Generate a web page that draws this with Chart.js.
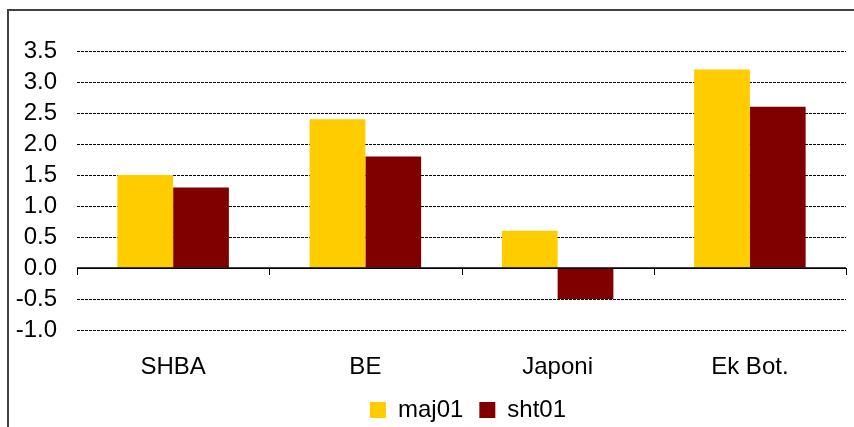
<!DOCTYPE html>
<html>
<head>
<meta charset="utf-8">
<script src="https://cdn.jsdelivr.net/npm/chart.js@4"></script>
<style>
  html, body { margin: 0; padding: 0; background: #fff; overflow: hidden; }
  #wrap { position: relative; width: 854px; height: 427px; }
  #frame { position: absolute; left: 7px; top: 9px; width: 900px; height: 500px;
           border-left: 2px solid #404040; border-top: 2px solid #404040; }
  canvas { position: absolute; left: 0; top: 0; }
</style>
</head>
<body>
<div id="wrap">
  <div id="frame"></div>
  <canvas id="myChart" width="854" height="427"></canvas>
</div>
<script>
var categories = ['SHBA', 'BE', 'Japoni', 'Ek Bot.'];
var maj01 = [1.5, 2.4, 0.6, 3.2];
var sht01 = [1.3, 1.8, -0.5, 2.6];

var font = 'Liberation Sans, Arial, sans-serif';

// little tick marks on the zero line, between categories
var zeroTicks = {
  id: 'zeroTicks',
  afterLayout: function(chart) {
    // legend sits a bit right of centre in the original
    if (chart.legend) {
      chart.legend.left += 45;
      chart.legend.right += 45;
    }
  },
  afterDatasetsDraw: function(chart) {
    var x = chart.scales.x, y = chart.scales.y;
    var y0 = y.getPixelForValue(0);
    var c = chart.ctx;
    c.save();
    c.strokeStyle = '#000';
    c.lineWidth = 1;
    for (var i = 0; i <= categories.length; i++) {
      var px = Math.round(x.getPixelForValue(i - 0.5)) + 0.5;
      c.beginPath();
      c.moveTo(px, y0);
      c.lineTo(px, y0 + 7);
      c.stroke();
    }
    // zero line over the bars
    c.lineWidth = 1.5;
    c.beginPath();
    c.moveTo(x.left, y0);
    c.lineTo(x.right, y0);
    c.stroke();
    c.restore();
  }
};

var ctx = document.getElementById('myChart').getContext('2d');
var myChart = new Chart(ctx, {
  type: 'bar',
  data: {
    labels: categories,
    datasets: [{
      label: 'maj01',
      data: maj01,
      backgroundColor: '#FFCC00',
      categoryPercentage: 0.58,
      barPercentage: 1.0
    }, {
      label: 'sht01',
      data: sht01,
      backgroundColor: '#800000',
      categoryPercentage: 0.58,
      barPercentage: 1.0
    }]
  },
  options: {
    responsive: false,
    animation: false,
    layout: { padding: { top: 51, right: 8, bottom: -5, left: 0 } },
    plugins: {
      tooltip: { enabled: false },
      legend: {
        position: 'bottom',
        labels: {
          boxWidth: 16,
          boxHeight: 16,
          padding: 16,
          color: '#000',
          font: { family: font, size: 24 }
        }
      }
    },
    scales: {
      x: {
        afterFit: function(scale) { scale.height = 52; },
        grid: { display: false, drawTicks: false },
        border: { display: false },
        ticks: { color: '#000', padding: 23, font: { family: font, size: 24 } }
      },
      y: {
        min: -1,
        max: 3.5,
        afterFit: function(scale) { scale.width = 77; },
        ticks: {
          stepSize: 0.5,
          autoSkip: false,
          padding: 20,
          color: '#000',
          font: { family: font, size: 24 },
          callback: function(v) { return v.toFixed(1); }
        },
        grid: {
          drawTicks: false,
          color: '#000',
          lineWidth: 1
        },
        border: {
          display: false,
          dash: function(c) { return c.tick && c.tick.value === 0 ? [] : [3, 1]; }
        }
      }
    }
  },
  plugins: [zeroTicks]
});
</script>
</body>
</html>
